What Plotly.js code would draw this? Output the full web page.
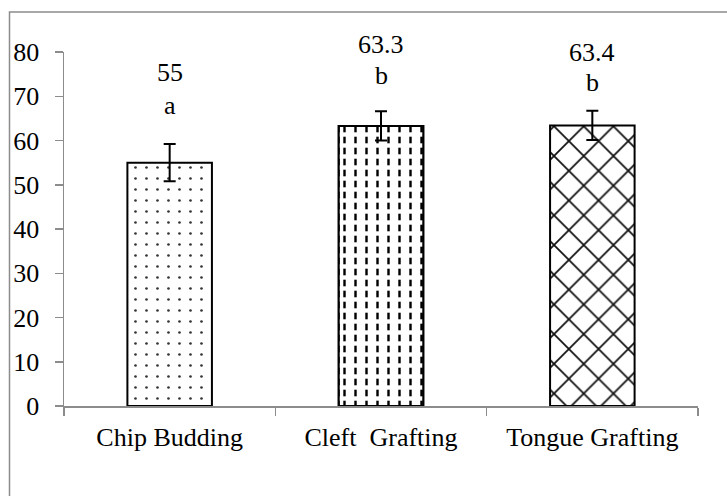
<!DOCTYPE html>
<html>
<head>
<meta charset="utf-8">
<script src="https://cdn.plot.ly/plotly-3.0.1.min.js"></script>
<style>html,body{margin:0;padding:0;background:#fff;}#chart{width:727px;height:496px;}</style>
</head>
<body>
<div id="chart"></div>
<script>
const categories = ["Chip Budding", "Cleft  Grafting", "Tongue Grafting"];
const values = [55, 63.3, 63.4];
const valueLabels = ["55", "63.3", "63.4"];
const errors = [4.2, 3.3, 3.3];
const letters = ["a", "b", "b"];
const yTicks = [0, 10, 20, 30, 40, 50, 60, 70, 80];

const FONT = "Liberation Serif";
const patterns = [
  {shape: ".", size: 11, solidity: 0.045, fgcolor: "#333", fgopacity: 1, bgcolor: "#fff", fillmode: "overlay"},
  {shape: "|", size: 11, solidity: 0.22, fgcolor: "#000", fgopacity: 1, bgcolor: "#fff", fillmode: "overlay"},
  {shape: "x", size: 21, solidity: 0.16, fgcolor: "#111", fgopacity: 1, bgcolor: "#fff", fillmode: "overlay"}
];

function errBar(i) {
  return {type: "data", array: [errors[i]], visible: true, color: "#000", thickness: 2, width: 6};
}

const traces = categories.map((c, i) => ({
  type: "bar",
  x: [c],
  y: [values[i]],
  width: 0.4,
  marker: {color: "#fff", line: {color: "#000", width: 2}, pattern: patterns[i]},
  error_y: i === 1 ? {visible: false} : errBar(i),
  showlegend: false,
  hoverinfo: "skip"
}));
// white horizontal breaks that turn the vertical lines of the second bar into dashes
traces.splice(2, 0, {
  type: "bar",
  x: [categories[1]],
  y: [values[1]],
  width: 0.4,
  marker: {color: "rgba(0,0,0,0)", line: {color: "#000", width: 2},
    pattern: {shape: "-", size: 11, solidity: 0.4, fgcolor: "#fff", fgopacity: 1, fillmode: "overlay"}},
  error_y: errBar(1),
  showlegend: false,
  hoverinfo: "skip"
});

const YMAX = 80;
// label offsets above bar value (style)
const numOffset = [20.3, 18.3, 16.6];
const letOffset = [12.8, 11.3, 9.6];
const annotations = [];
categories.forEach((c, i) => {
  annotations.push({x: c, y: (values[i] + numOffset[i]) / YMAX, xref: "x", yref: "paper", text: valueLabels[i], showarrow: false,
    font: {family: FONT, size: 26, color: "#000"}, yanchor: "middle"});
  annotations.push({x: c, y: (values[i] + letOffset[i]) / YMAX, xref: "x", yref: "paper", text: letters[i], showarrow: false,
    font: {family: FONT, size: 26, color: "#000"}, yanchor: "middle"});
});

const layout = {
  width: 727, height: 496,
  margin: {l: 64, r: 29, t: 52, b: 90},
  paper_bgcolor: "#fff", plot_bgcolor: "#fff",
  font: {family: FONT, size: 24, color: "#000"},
  barmode: "overlay",
  xaxis: {
    type: "category", range: [-0.5, 2.5],
    showline: true, linecolor: "#8c8c8c", linewidth: 1.5,
    ticks: "outside", tickson: "boundaries", ticklen: 8, tickcolor: "#8c8c8c", tickwidth: 1.5,
    showgrid: false, zeroline: false, ticklabelstandoff: 7,
    tickfont: {family: FONT, size: 26, color: "#000"}
  },
  yaxis: {
    range: [0, YMAX], tickvals: yTicks, ticktext: yTicks.map(String),
    showline: true, linecolor: "#8c8c8c", linewidth: 1.5,
    ticks: "outside", ticklen: 8, tickcolor: "#8c8c8c", tickwidth: 1.5,
    showgrid: false, zeroline: false, ticklabelstandoff: 10,
    tickfont: {family: FONT, size: 26, color: "#000"}
  },
  annotations: annotations,
  shapes: [{
    type: "rect", xref: "paper", yref: "paper",
    x0: (9.5 - 64) / 634, x1: (740 - 64) / 634,
    y0: (406 - 520) / 354, y1: (406 - 12) / 354,
    line: {color: "#8c8c8c", width: 1.5}, fillcolor: "rgba(0,0,0,0)", layer: "below"
  }]
};

Plotly.newPlot("chart", traces, layout, {displayModeBar: false, staticPlot: true});
</script>
</body>
</html>
